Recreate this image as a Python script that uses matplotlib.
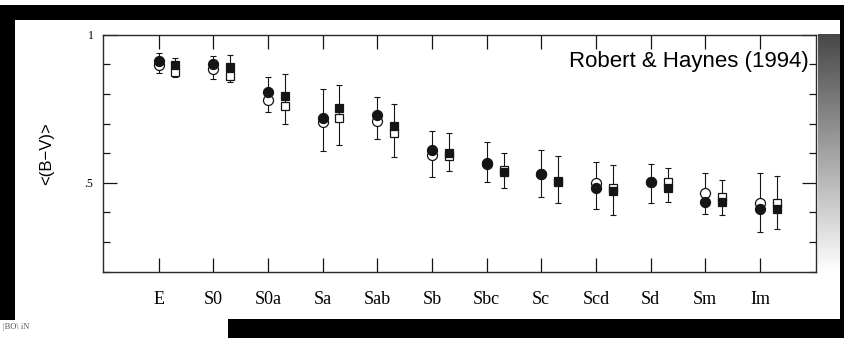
import numpy as np
import matplotlib.pyplot as plt
from matplotlib.patches import Rectangle

# Mean colour by morphological type
types = ["E", "S0", "S0a", "Sa", "Sab", "Sb", "Sbc", "Sc", "Scd", "Sd", "Sm", "Im"]
circ_open = [0.898, 0.883, 0.779, 0.706, 0.709, 0.594, 0.562, 0.529, 0.500, 0.503, 0.466, 0.432]
circ_fill = [0.912, 0.900, 0.807, 0.718, 0.729, 0.610, 0.568, 0.529, 0.484, 0.503, 0.434, 0.413]
circ_lo = [0.870, 0.849, 0.738, 0.608, 0.648, 0.518, 0.501, 0.453, 0.411, 0.432, 0.394, 0.334]
circ_hi = [0.939, 0.929, 0.858, 0.817, 0.788, 0.676, 0.637, 0.610, 0.570, 0.562, 0.532, 0.532]
sq_open = [0.873, 0.861, 0.759, 0.718, 0.669, 0.590, 0.543, 0.506, 0.483, 0.503, 0.453, 0.430]
sq_fill = [0.898, 0.892, 0.794, 0.753, 0.692, 0.599, 0.537, 0.503, 0.473, 0.483, 0.434, 0.413]
sq_lo = [0.858, 0.839, 0.698, 0.627, 0.588, 0.540, 0.481, 0.432, 0.391, 0.434, 0.391, 0.343]
sq_hi = [0.920, 0.931, 0.867, 0.830, 0.766, 0.667, 0.599, 0.590, 0.560, 0.551, 0.511, 0.522]

W, H = 844, 338
ink = "#151515"
serif = ["Liberation Serif", "DejaVu Serif"]
sans = ["Liberation Sans", "DejaVu Sans"]

fig = plt.figure(figsize=(W / 100, H / 100), dpi=100)
fig.patch.set_facecolor("white")


def px_rect(x0, y0, x1, y1, color):
    # rectangle given in pixel coords (origin top-left)
    fig.patches.append(Rectangle((x0 / W, 1 - y1 / H), (x1 - x0) / W, (y1 - y0) / H,
                                 transform=fig.transFigure, facecolor=color,
                                 edgecolor="none", zorder=0))


# scan frame
px_rect(0, 5, W, 20, "black")
px_rect(0, 5, 15, 320, "black")
px_rect(228, 319, W, H, "black")
px_rect(840, 5, W, H, "black")

# grey gradient strip on the right
gax = fig.add_axes([818 / W, 1 - 273 / H, 22 / W, (273 - 34) / H])
grad = np.linspace(0.28, 1.0, 256).reshape(-1, 1)
gax.imshow(grad, cmap="gray", vmin=0, vmax=1, aspect="auto")
gax.axis("off")

ax = fig.add_axes([103.3 / W, 1 - 271.6 / H, 712.4 / W, 236.9 / H])
x = np.arange(len(types))
xs = x + 0.31

ax.errorbar(x, (np.array(circ_lo) + np.array(circ_hi)) / 2,
            yerr=(np.array(circ_hi) - np.array(circ_lo)) / 2,
            fmt="none", ecolor=ink, elinewidth=0.8, capsize=2.3, capthick=0.8, zorder=2)
ax.errorbar(xs, (np.array(sq_lo) + np.array(sq_hi)) / 2,
            yerr=(np.array(sq_hi) - np.array(sq_lo)) / 2,
            fmt="none", ecolor=ink, elinewidth=0.8, capsize=2.3, capthick=0.8, zorder=2)

ax.plot(x, circ_open, "o", ms=7.2, mfc="white", mec=ink, mew=0.9, ls="none", zorder=3)
ax.plot(x, circ_fill, "o", ms=7.2, mfc=ink, mec=ink, mew=0.9, ls="none", zorder=4)
ax.plot(xs, sq_open, "s", ms=5.6, mfc="white", mec=ink, mew=0.9, ls="none", zorder=3)
ax.plot(xs, sq_fill, "s", ms=5.6, mfc=ink, mec=ink, mew=0.9, ls="none", zorder=4)

ax.set_xlim(-1.01, 12.02)
ax.set_ylim(0.2, 1.0)
ax.set_xticks(x)
ax.set_xticklabels(types, family=serif, fontsize=13)
ax.set_yticks([0.5, 1.0])
ax.set_yticklabels([".5", "1"], family=serif, fontsize=8.5)
ax.set_yticks([0.2, 0.3, 0.4, 0.6, 0.7, 0.8, 0.9], minor=True)
ax.tick_params(axis="x", direction="in", length=10, width=0.9, top=True, pad=14, color=ink)
ax.tick_params(axis="y", which="major", direction="in", length=10, width=0.9, right=True,
               pad=7, color=ink)
ax.tick_params(axis="y", which="minor", direction="in", length=5, width=0.9, right=True,
               color=ink)
for s in ax.spines.values():
    s.set_linewidth(1.0)
    s.set_color("#2a2a2a")

ax.set_ylabel("<(B\u2212V)>", family=sans, fontsize=12, labelpad=22)
ax.text(0.99, 0.885, "Robert & Haynes (1994)", transform=ax.transAxes, ha="right",
        va="center", family=sans, fontsize=16)

# scanned text fragment at the bottom-left corner
fig.text(3 / W, 1 - 327 / H, "|BO\\ iN", ha="left", va="center", fontsize=6,
         color="#555555", family=serif)

fig.savefig("out.png", dpi=100)
